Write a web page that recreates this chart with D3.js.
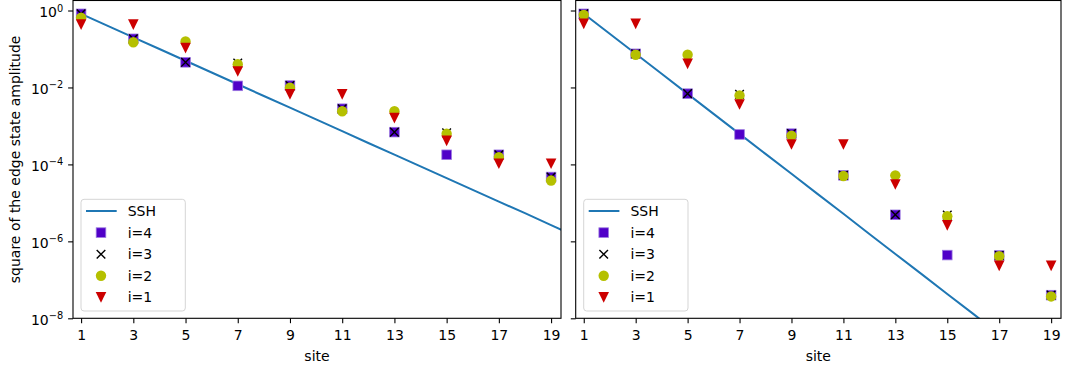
<!DOCTYPE html>
<html>
<head>
<meta charset="utf-8">
<script src="https://cdn.jsdelivr.net/npm/d3@7"></script>
<style>
  body { margin: 0; background: #fff; }
  svg { display: block; }
  text { font-family: "DejaVu Sans", sans-serif; }
</style>
</head>
<body>
<script>
// sites where the markers sit
var sites = [1, 3, 5, 7, 9, 11, 13, 15, 17, 19];
// SSH curve sampled at every site
var sshSites = [1, 2, 3, 4, 5, 6, 7, 8, 9, 10, 11, 12, 13, 14, 15, 16, 17, 18, 19, 20];

// left panel
var sshLeft = [0.82, 0.406, 0.201, 0.0998, 0.0494, 0.0245, 0.0121, 6.0e-3, 2.98e-3, 1.48e-3,
  7.3e-4, 3.6e-4, 1.79e-4, 8.9e-5, 4.4e-5, 2.18e-5, 1.08e-5, 5.4e-6, 2.65e-6, 1.31e-6];
var left4 = [0.82, 0.184, 0.045, 0.011, 0.0112, 0.0028, 6.9e-4, 1.78e-4, 1.78e-4, 4.7e-5];
var left3 = [0.82, 0.184, 0.045, 0.043, 0.0112, 0.0028, 6.9e-4, 6.6e-4, 1.78e-4, 4.7e-5];
var left2 = [0.65, 0.15, 0.157, 0.040, 0.0098, 0.0024, 0.0024, 6.3e-4, 1.55e-4, 3.8e-5];
var left1 = [0.43, 0.43, 0.105, 0.026, 0.0066, 0.0066, 0.0016, 4.1e-4, 1.04e-4, 1.04e-4];

// right panel
var sshRight = [0.82, 0.248, 0.0748, 0.0226, 6.8e-3, 2.06e-3, 6.2e-4, 1.88e-4, 5.7e-5, 1.71e-5,
  5.2e-6, 1.56e-6, 4.7e-7, 1.43e-7, 4.3e-8, 1.30e-8, 3.9e-9, 1.19e-9, 3.6e-10, 1.08e-10];
var right4 = [0.82, 0.075, 6.9e-3, 6.0e-4, 6.3e-4, 5.2e-5, 4.9e-6, 4.4e-7, 4.3e-7, 4.0e-8];
var right3 = [0.82, 0.075, 6.9e-3, 6.6e-3, 6.3e-4, 5.2e-5, 4.9e-6, 4.8e-6, 4.3e-7, 4.0e-8];
var right2 = [0.77, 0.071, 0.071, 6.2e-3, 5.6e-4, 5.0e-5, 5.2e-5, 4.5e-6, 4.1e-7, 3.7e-8];
var right1 = [0.45, 0.45, 0.041, 3.6e-3, 3.3e-4, 3.3e-4, 3.0e-5, 2.6e-6, 2.3e-7, 2.3e-7];

var xTicks = [1, 3, 5, 7, 9, 11, 13, 15, 17, 19];
var yTicks = [1, 1e-2, 1e-4, 1e-6, 1e-8];
var yTickExp = ["0", "\u22122", "\u22124", "\u22126", "\u22128"];
var legendLabels = ["SSH", "i=4", "i=3", "i=2", "i=1"];

var width = 1066, height = 368;
var plotTop = 0.5, plotBottom = 318.3;
var tickLen = 4.9;

var svg = d3.select("body").append("svg")
  .attr("width", width)
  .attr("height", height);

var y = d3.scaleLog()
  .domain([1e-8, 1.82])
  .range([plotBottom, plotTop]);

function panel(id, x0, x1, ssh, s4, s3, s2, s1, showYLabels) {
  var x = d3.scaleLinear()
    .domain([0.69, 19.38])
    .range([x0, x1]);

  var g = svg.append("g");

  // clip so the SSH line stops at the frame
  svg.append("clipPath").attr("id", "clip" + id)
    .append("rect")
    .attr("x", x0).attr("y", plotTop)
    .attr("width", x1 - x0).attr("height", plotBottom - plotTop);

  var line = d3.line()
    .x(function(d, i) { return x(sshSites[i]); })
    .y(function(d) { return y(d); });

  g.append("path")
    .datum(ssh)
    .attr("clip-path", "url(#clip" + id + ")")
    .attr("fill", "none")
    .attr("stroke", "#1f77b4")
    .attr("stroke-width", 2)
    .attr("d", line);

  // i=4 squares
  g.selectAll(".sq").data(s4).enter().append("rect")
    .attr("x", function(d, i) { return x(sites[i]) - 4.8; })
    .attr("y", function(d) { return y(d) - 4.8; })
    .attr("width", 9.6).attr("height", 9.6)
    .attr("fill", "#5000c8")
    .attr("stroke", "#9b78e0")
    .attr("stroke-width", 0.8);

  // i=3 crosses
  g.selectAll(".cr").data(s3).enter().append("path")
    .attr("transform", function(d, i) { return "translate(" + x(sites[i]) + "," + y(d) + ")"; })
    .attr("d", "M-4.3,-4.3L4.3,4.3M-4.3,4.3L4.3,-4.3")
    .attr("stroke", "#000")
    .attr("stroke-width", 1.4)
    .attr("fill", "none");

  // i=2 circles
  g.selectAll(".ci").data(s2).enter().append("circle")
    .attr("cx", function(d, i) { return x(sites[i]); })
    .attr("cy", function(d) { return y(d); })
    .attr("r", 5.2)
    .attr("fill", "#b5c000");

  // i=1 triangles down
  g.selectAll(".tr").data(s1).enter().append("path")
    .attr("transform", function(d, i) { return "translate(" + x(sites[i]) + "," + y(d) + ")"; })
    .attr("d", "M-5.3,-5.3L5.3,-5.3L0,5.3Z")
    .attr("fill", "#cc0000");

  // frame
  g.append("rect")
    .attr("x", x0).attr("y", plotTop)
    .attr("width", x1 - x0).attr("height", plotBottom - plotTop)
    .attr("fill", "none")
    .attr("stroke", "#000")
    .attr("stroke-width", 1.1);

  // x axis
  var xa = g.append("g")
    .attr("transform", "translate(0," + plotBottom + ")")
    .call(d3.axisBottom(x).tickValues(xTicks).tickSize(tickLen).tickPadding(6.5).tickSizeOuter(0));
  xa.select(".domain").remove();
  xa.selectAll("line").attr("stroke-width", 1.1);
  xa.selectAll("text").attr("font-size", 14).attr("font-family", "DejaVu Sans").attr("fill", "#000");

  g.append("text")
    .attr("x", (x0 + x1) / 2)
    .attr("y", 361)
    .attr("text-anchor", "middle")
    .attr("font-size", 14)
    .text("site");

  // y axis
  var ya = g.append("g")
    .attr("transform", "translate(" + x0 + ",0)")
    .call(d3.axisLeft(y).tickValues(yTicks).tickSize(tickLen).tickFormat(function() { return ""; }).tickSizeOuter(0));
  ya.select(".domain").remove();
  ya.selectAll("line").attr("stroke-width", 1.1);
  ya.selectAll("text").remove();

  if (showYLabels) {
    ya.selectAll(".tick").each(function(d, i) {
      var t = d3.select(this).append("text")
        .attr("x", -tickLen - 4.9)
        .attr("y", 6)
        .attr("text-anchor", "end")
        .attr("fill", "#000")
        .attr("font-size", 14)
        .attr("font-family", "DejaVu Sans");
      t.append("tspan").text("10");
      t.append("tspan").attr("dy", -5.5).attr("font-size", 9.8).text(yTickExp[i]);
    });
  }

  // legend
  var lx = x(0.69) + 8, ly = 199.3;
  var leg = g.append("g");
  leg.append("rect")
    .attr("x", lx).attr("y", ly)
    .attr("width", 104.3).attr("height", 111.7)
    .attr("rx", 3).attr("ry", 3)
    .attr("fill", "#fff").attr("fill-opacity", 0.8)
    .attr("stroke", "#d5d5d5").attr("stroke-width", 1);

  legendLabels.forEach(function(lab, i) {
    var cy = ly + 11.7 + i * 21.6;
    var mx = lx + 20;
    if (i == 0) {
      leg.append("line")
        .attr("x1", lx + 5).attr("x2", lx + 35.7)
        .attr("y1", cy).attr("y2", cy)
        .attr("stroke", "#1f77b4").attr("stroke-width", 2);
    } else if (i == 1) {
      leg.append("rect")
        .attr("x", mx - 4.8).attr("y", cy - 4.8)
        .attr("width", 9.6).attr("height", 9.6)
        .attr("fill", "#5000c8").attr("stroke", "#9b78e0").attr("stroke-width", 0.8);
    } else if (i == 2) {
      leg.append("path")
        .attr("transform", "translate(" + mx + "," + cy + ")")
        .attr("d", "M-4.3,-4.3L4.3,4.3M-4.3,4.3L4.3,-4.3")
        .attr("stroke", "#000").attr("stroke-width", 1.4);
    } else if (i == 3) {
      leg.append("circle")
        .attr("cx", mx).attr("cy", cy).attr("r", 5.2)
        .attr("fill", "#b5c000");
    } else {
      leg.append("path")
        .attr("transform", "translate(" + mx + "," + cy + ")")
        .attr("d", "M-5.3,-5.3L5.3,-5.3L0,5.3Z")
        .attr("fill", "#cc0000");
    }
    leg.append("text")
      .attr("x", lx + 46.7)
      .attr("y", cy + 5)
      .attr("font-size", 14)
      .text(lab);
  });
}

panel("L", 73, 561, sshLeft, left4, left3, left2, left1, true);
panel("R", 575.7, 1061, sshRight, right4, right3, right2, right1, false);

svg.append("text")
  .attr("transform", "translate(20," + ((plotTop + plotBottom) / 2) + ") rotate(-90)")
  .attr("text-anchor", "middle")
  .attr("font-size", 14)
  .text("square of the edge state amplitude");
</script>
</body>
</html>
